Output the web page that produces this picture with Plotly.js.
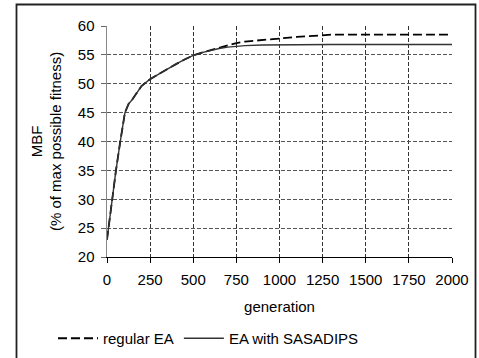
<!DOCTYPE html>
<html>
<head>
<meta charset="utf-8">
<script src="https://cdn.plot.ly/plotly-3.0.1.min.js"></script>
<style>
html,body{margin:0;padding:0;background:#fff;}
#chart{width:479px;height:358px;}
</style>
</head>
<body>
<div id="chart"></div>
<script>
// Data
const generation = [0, 8, 20, 31, 52, 77, 104, 125, 145, 170, 200, 250, 300, 350, 400, 450, 500, 550, 600, 650, 700, 750, 800, 900, 1000, 1100, 1200, 1250, 1300, 1500, 1750, 2000];
const regularEA = [23.0, 25.0, 28.0, 30.0, 35.0, 40.0, 45.0, 46.5, 47.2, 48.3, 49.6, 50.8, 51.7, 52.6, 53.4, 54.2, 54.9, 55.4, 55.8, 56.3, 56.7, 57.05, 57.3, 57.6, 57.85, 58.1, 58.3, 58.4, 58.5, 58.5, 58.5, 58.5];
const sasadipsEA = [23.0, 25.0, 28.0, 30.0, 35.0, 40.0, 45.0, 46.5, 47.2, 48.3, 49.6, 50.8, 51.7, 52.6, 53.4, 54.2, 54.9, 55.4, 55.8, 56.1, 56.35, 56.5, 56.6, 56.7, 56.75, 56.8, 56.8, 56.8, 56.8, 56.8, 56.8, 56.8];
const seriesNames = ["regular EA", "EA with SASADIPS"];
const xTicks = [0, 250, 500, 750, 1000, 1250, 1500, 1750, 2000];
const yTicks = [20, 25, 30, 35, 40, 45, 50, 55, 60];

const W = 479, H = 358;
const M = {l: 107, r: 27, t: 26, b: 101, autoexpand: false};
const pw = W - M.l - M.r, ph = H - M.t - M.b;
const px2x = p => (p - M.l) / pw;
const px2y = p => (H - M.b - p) / ph;

const traces = [
  {x: generation, y: regularEA, name: seriesNames[0], mode: 'lines',
   line: {color: '#000', width: 1.8, dash: '9px,4px'}},
  {x: generation, y: sasadipsEA, name: seriesNames[1], mode: 'lines',
   line: {color: '#333', width: 1.4}}
];

const font = {family: '"Liberation Sans", Arial, Helvetica, sans-serif', size: 15, color: '#000'};

const layout = {
  width: W, height: H,
  margin: M,
  paper_bgcolor: '#fff', plot_bgcolor: '#fff',
  font: font,
  showlegend: true,
  legend: {orientation: 'h', x: px2x(53), y: px2y(322), xanchor: 'left', yanchor: 'top',
           font: font, bgcolor: 'rgba(0,0,0,0)', itemwidth: 40, tracegroupgap: 0},
  xaxis: {range: [0, 2000], tickvals: xTicks, ticktext: xTicks.map(String), automargin: false,
          showline: true, linecolor: '#000', linewidth: 1,
          ticks: 'outside', ticklen: 5, tickcolor: '#000', tickwidth: 1,
          showgrid: true, gridcolor: '#333', gridwidth: 1, griddash: '4px,2px',
          zeroline: false, ticklabelstandoff: 4,
          title: {text: 'generation', font: font, standoff: 14}},
  yaxis: {range: [20, 60], tickvals: yTicks, ticktext: yTicks.map(String), automargin: false,
          showline: true, linecolor: '#888', linewidth: 1.5,
          ticks: 'outside', ticklen: 5, tickcolor: '#666', tickwidth: 1,
          showgrid: true, gridcolor: '#555', gridwidth: 1, griddash: '4px,2px',
          zeroline: false, ticklabelstandoff: 3,
          title: {text: 'MBF<br>(% of max possible fitness)', font: font, standoff: 12}},
  shapes: [
    {type: 'rect', xref: 'paper', yref: 'paper', layer: 'above',
     x0: px2x(16.5), x1: px2x(475.5), y0: px2y(362), y1: px2y(4.5),
     line: {color: '#222', width: 1.8}, fillcolor: 'rgba(0,0,0,0)'}
  ]
};

Plotly.newPlot('chart', traces, layout, {staticPlot: true, displayModeBar: false});
</script>
</body>
</html>
